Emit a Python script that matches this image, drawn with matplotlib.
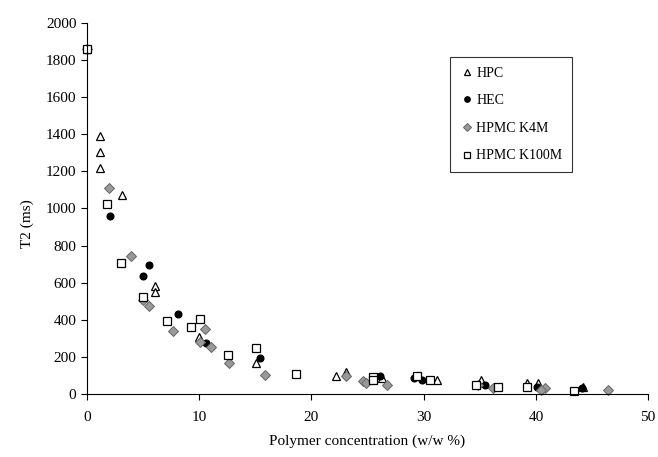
import numpy as np
import matplotlib.pyplot as plt

plt.rcParams['font.family'] = ['Liberation Serif', 'DejaVu Serif']

# Данные (оценены по рисунку)
hpc_x = [0, 1.2, 1.2, 1.2, 3.1, 6.1, 6.1, 10.0, 15.1, 22.2, 23.1, 26.3, 31.2, 35.1, 39.2, 40.2, 44.2]
hpc_y = [1860, 1390, 1305, 1218, 1072, 582, 550, 307, 167, 97, 119, 86, 75, 75, 59, 59, 38]

hec_x = [0, 2.1, 5.0, 5.5, 8.1, 10.6, 15.4, 26.1, 29.1, 29.9, 35.5, 40.1, 44.1]
hec_y = [1860, 959, 636, 695, 431, 275, 194, 97, 86, 75, 49, 38, 32]

k4m_x = [0, 2.0, 3.9, 5.0, 5.5, 7.7, 10.1, 10.5, 11.1, 12.7, 15.9, 23.1, 24.6, 24.9, 26.7, 34.8, 36.2, 40.8, 40.5, 46.4]
k4m_y = [1860, 1110, 744, 507, 474, 340, 280, 350, 253, 167, 102, 97, 70, 59, 49, 49, 32, 32, 22, 22]

k100_x = [0, 1.8, 3.0, 5.0, 7.1, 9.3, 10.1, 12.6, 15.1, 18.6, 25.5, 25.5, 29.4, 30.6, 34.7, 36.6, 39.2, 43.4]
k100_y = [1860, 1023, 705, 524, 393, 360, 404, 210, 246, 108, 92, 75, 97, 75, 49, 38, 38, 16]

fig = plt.figure(figsize=(6.58, 4.57), dpi=100)
ax = fig.add_axes([0.132, 0.138, 0.853, 0.812])

ax.plot(hpc_x, hpc_y, '^', ms=5.5, mfc='white', mec='black', mew=0.9, ls='none', label='HPC', clip_on=False)
ax.plot(hec_x, hec_y, 'o', ms=4.8, mfc='black', mec='black', ls='none', label='HEC', clip_on=False)
ax.plot(k4m_x, k4m_y, 'D', ms=4.8, mfc='#999999', mec='#666666', mew=0.7, ls='none', label='HPMC K4M', clip_on=False)
ax.plot(k100_x, k100_y, 's', ms=5.8, mfc='white', mec='black', mew=0.9, ls='none', label='HPMC K100M', clip_on=False)

ax.set_xlim(0, 50)
ax.set_ylim(0, 2000)
ax.set_xticks(np.arange(0, 51, 10))
ax.set_yticks(np.arange(0, 2001, 200))
ax.spines['top'].set_visible(False)
ax.spines['right'].set_visible(False)
ax.tick_params(direction='out', length=4, labelsize=11)
ax.tick_params(axis='x', pad=8)
ax.set_xlabel('Polymer concentration (w/w %)', fontsize=11)
ax.set_ylabel('T2 (ms)', fontsize=11)
ax.yaxis.set_label_coords(-0.095, 0.46)
ax.xaxis.set_label_coords(0.5, -0.11)

leg = ax.legend(loc='upper left', bbox_to_anchor=(0.647, 0.908), fontsize=10,
                frameon=True, fancybox=False, edgecolor='black', handletextpad=0.2,
                handlelength=1.0, borderpad=0.7, labelspacing=1.05, markerscale=0.8,
                borderaxespad=0)
leg.get_frame().set_linewidth(0.8)

plt.savefig('out.png', dpi=100)
